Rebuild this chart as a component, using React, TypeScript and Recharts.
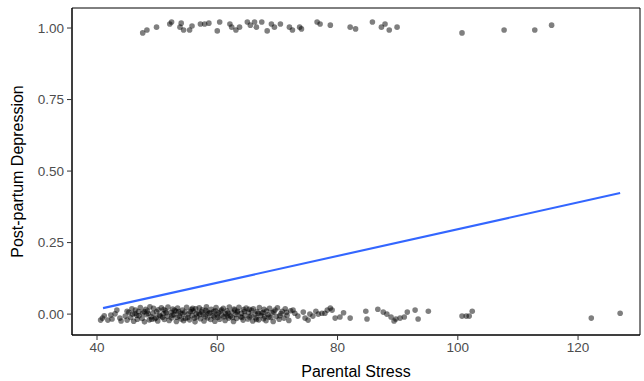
import { ScatterChart, Scatter, XAxis, YAxis, ReferenceArea, Label } from 'recharts';

// jittered observations: [parental stress, post-partum depression (0/1 + jitter)]
const noDepression: [number, number][] = [
  [40.6, -0.021], [40.9, -0.014], [41.2, -0.006], [41.8, -0.021], [42.3, -0.003], [42.5, -0.017], [43.0, 0.001], [43.3, 0.014],
  [43.8, -0.014], [44.0, -0.024], [44.7, -0.007], [45.0, 0.01], [45.0, -0.021],
  [45.3, 0.006], [45.6, -0.012], [45.8, 0.019], [46.1, -0.025], [46.3, 0.002], [46.4, 0.014], [46.7, -0.018], [46.9, 0.009], [47.0, -0.006], [47.2, 0.023],
  [47.5, -0.015], [47.6, 0.004], [47.9, -0.027], [48.1, 0.017], [48.2, -0.002], [48.4, 0.011], [48.7, -0.02], [48.8, 0.026], [49.0, -0.009], [49.3, 0.003],
  [49.4, 0.02], [49.6, -0.016], [49.9, 0.008], [50.1, -0.024], [50.2, 0.015], [50.4, -0.004], [50.7, 0.022], [50.9, -0.011], [51.0, 0.001], [51.2, -0.019],
  [51.4, 0.012], [51.7, -0.007], [51.8, 0.025], [52.0, -0.022], [52.3, 0.006], [52.4, -0.013], [52.6, 0.018], [52.8, -0.001], [53.1, 0.01], [53.2, -0.026],
  [53.4, 0.021], [53.7, -0.008], [53.9, 0.003], [54.0, -0.017], [54.2, 0.014], [54.4, -0.023], [54.6, 0.007], [54.9, 0.024], [55.1, -0.012], [55.2, 0.0],
  [55.4, -0.02], [55.7, 0.016], [55.8, -0.005], [56.0, 0.011], [56.3, -0.027], [56.4, 0.019], [56.6, -0.01], [56.9, 0.004], [57.0, 0.022], [57.2, -0.016],
  [57.4, 0.008], [57.7, -0.002], [57.8, -0.024], [58.1, 0.013], [58.2, 0.026], [58.4, -0.013], [58.6, 0.002], [58.9, -0.019], [59.0, 0.017], [59.3, -0.006],
  [59.4, 0.009], [59.6, -0.025], [59.8, 0.023], [60.1, -0.011], [60.2, 0.005], [60.4, -0.018], [60.7, 0.015], [60.8, -0.003], [61.0, 0.02], [61.3, -0.022],
  [61.4, 0.001], [61.6, 0.012], [61.9, -0.014], [62.0, 0.025], [62.2, -0.007], [62.4, 0.007], [62.7, -0.026], [62.8, 0.018], [63.1, -0.001], [63.2, -0.015],
  [63.4, 0.01], [63.6, 0.024], [63.9, -0.009], [64.0, 0.003], [64.3, -0.021], [64.4, 0.016], [64.6, -0.004], [64.8, 0.021], [65.1, -0.017], [65.2, 0.006],
  [65.4, -0.01], [65.7, 0.013], [65.9, -0.024], [66.0, 0.019], [66.3, 0.0], [66.4, -0.013], [66.6, 0.009], [66.9, -0.02], [67.0, 0.023], [67.2, -0.005],
  [67.4, 0.004], [67.7, -0.016], [67.8, 0.017], [68.1, -0.023], [68.2, 0.011], [68.4, -0.002], [68.7, 0.02], [68.9, -0.012], [69.1, 0.005], [69.3, -0.026],
  [69.6, 0.014], [69.8, -0.008], [70.0, 0.022], [70.3, -0.018], [70.6, 0.002], [70.8, 0.01], [71.1, -0.014], [71.3, 0.019], [71.6, -0.004], [71.9, -0.022],
  [72.2, 0.012],
  [48.5, 0.002], [49.8, -0.013], [51.1, 0.016], [52.5, -0.004], [53.6, 0.009], [54.7, -0.015], [55.9, 0.02], [57.1, -0.001], [58.3, 0.008], [59.5, -0.009],
  [60.6, 0.011], [61.7, -0.006], [62.9, 0.014], [64.1, -0.012], [65.3, 0.017], [66.5, -0.019], [67.6, 0.006], [68.6, -0.01], [56.5, 0.001], [60.0, -0.002],
  [50.5, -0.008], [51.5, 0.005], [52.9, 0.013], [53.3, -0.011], [54.3, 0.0], [55.5, 0.009], [56.2, -0.014], [57.5, 0.015], [58.0, -0.008], [58.8, 0.005],
  [59.7, 0.012], [61.1, -0.009], [61.8, 0.004], [62.5, -0.012], [63.3, 0.006], [64.5, 0.009], [65.6, -0.006], [66.8, 0.003], [67.9, -0.009], [69.4, 0.008],
  [70.4, -0.006], [71.5, 0.006], [46.6, -0.004], [47.8, 0.009], [49.1, -0.018], [45.9, 0.0],
  [72.6, 0.014], [72.9, 0.003], [73.4, -0.007], [74.3, 0.007], [74.6, -0.014], [75.1, -0.021], [75.4, 0.0], [75.9, -0.007], [76.4, 0.01], [76.8, 0.0],
  [77.4, 0.003], [77.9, 0.003], [78.3, 0.014], [78.8, 0.021], [79.1, 0.014], [79.6, -0.014], [80.4, -0.01], [81.0, 0.005], [82.1, -0.014],
  [84.7, 0.01], [84.9, -0.017], [86.7, 0.017], [87.6, 0.007], [88.2, 0.0], [88.9, -0.01], [89.4, -0.024], [89.7, -0.017], [90.4, -0.014], [91.1, -0.01],
  [91.6, 0.007], [92.9, 0.014], [93.4, -0.017], [95.1, 0.01],
  [100.7, -0.007], [101.4, -0.007], [101.9, -0.007], [102.4, 0.01], [122.2, -0.014], [127.0, 0.003],
];

const depression: [number, number][] = [
  [47.6, 0.983], [48.3, 0.993], [49.9, 1.003], [52.1, 1.014], [52.4, 1.021], [53.8, 1.003], [54.0, 1.017], [54.4, 0.993], [55.4, 0.993], [55.8, 1.007],
  [57.2, 1.014], [57.9, 1.014], [58.6, 1.017], [60.0, 0.99], [60.4, 1.021], [62.1, 1.014], [62.4, 1.003], [63.1, 0.993], [63.7, 1.003], [65.0, 1.021],
  [65.5, 1.01], [66.2, 1.021], [66.5, 1.003], [67.4, 1.021], [68.3, 0.99], [69.0, 1.014], [69.5, 1.003], [70.5, 1.014], [72.0, 1.003], [72.5, 0.993],
  [73.7, 1.003], [74.0, 0.997], [76.6, 1.021], [77.1, 1.014], [78.8, 1.01], [82.1, 1.003], [83.0, 0.997], [85.8, 1.021], [87.3, 1.003], [87.9, 1.014],
  [88.6, 0.993], [89.9, 1.003], [100.7, 0.983], [107.7, 0.993], [112.8, 0.993], [115.6, 1.01],
];

// linear fit (geom_smooth method = "lm")
const fitStress = [41, 127];
const fitPpd = [0.021, 0.423];

const xTicks = [40, 60, 80, 100, 120];
const yTicks = [0, 0.25, 0.5, 0.75, 1];

const xDomain: [number, number] = [35.84, 130.3];
const yDomain: [number, number] = [-0.073, 1.07];

const toRows = (pts: [number, number][]) => pts.map(([stress, ppd]) => ({ stress, ppd }));
const fitRows = fitStress.map((stress, i) => ({ stress, ppd: fitPpd[i] }));

const dot = (props: any) => <circle cx={props.cx} cy={props.cy} r={2.8} fill="#000" fillOpacity={0.5} />;

const tickStyle = { fontSize: 13.5, fill: '#4d4d4d', fontFamily: 'Liberation Sans, Arial, sans-serif' };

export default function App() {
  return (
    <div style={{ position: 'absolute', left: 0, top: 0, background: '#fff', fontFamily: 'Liberation Sans, Arial, sans-serif' }}>
      <ScatterChart width={644} height={381} margin={{ top: 8, right: 4, bottom: 0, left: 0 }}>
        <XAxis
          type="number"
          dataKey="stress"
          domain={xDomain}
          ticks={xTicks}
          allowDataOverflow
          height={46}
          tick={tickStyle}
          tickSize={5}
          tickMargin={2}
          tickLine={{ stroke: '#333' }}
          axisLine={{ stroke: '#000' }}
        >
          <Label value="Parental Stress" position="insideBottom" offset={4} style={{ fontSize: 16, fill: '#000' }} />
        </XAxis>
        <YAxis
          type="number"
          dataKey="ppd"
          domain={yDomain}
          ticks={yTicks}
          allowDataOverflow
          width={72}
          tick={tickStyle}
          tickSize={5}
          tickMargin={3}
          tickLine={{ stroke: '#333' }}
          axisLine={{ stroke: '#000' }}
          tickFormatter={(v: number) => v.toFixed(2)}
        >
          <Label value="Post-partum Depression" angle={-90} position="insideLeft" offset={17} style={{ fontSize: 16, fill: '#000', textAnchor: 'middle' }} />
        </YAxis>
        <ReferenceArea x1={xDomain[0]} x2={xDomain[1]} y1={yDomain[0]} y2={yDomain[1]} fill="none" stroke="#000" strokeWidth={1} />
        <Scatter data={toRows(noDepression)} shape={dot} isAnimationActive={false} />
        <Scatter data={toRows(depression)} shape={dot} isAnimationActive={false} />
        <Scatter
          data={fitRows}
          fill="#3366FF"
          line={{ stroke: '#3366FF', strokeWidth: 2.1 }}
          shape={() => <g />}
          isAnimationActive={false}
        />
      </ScatterChart>
    </div>
  );
}
